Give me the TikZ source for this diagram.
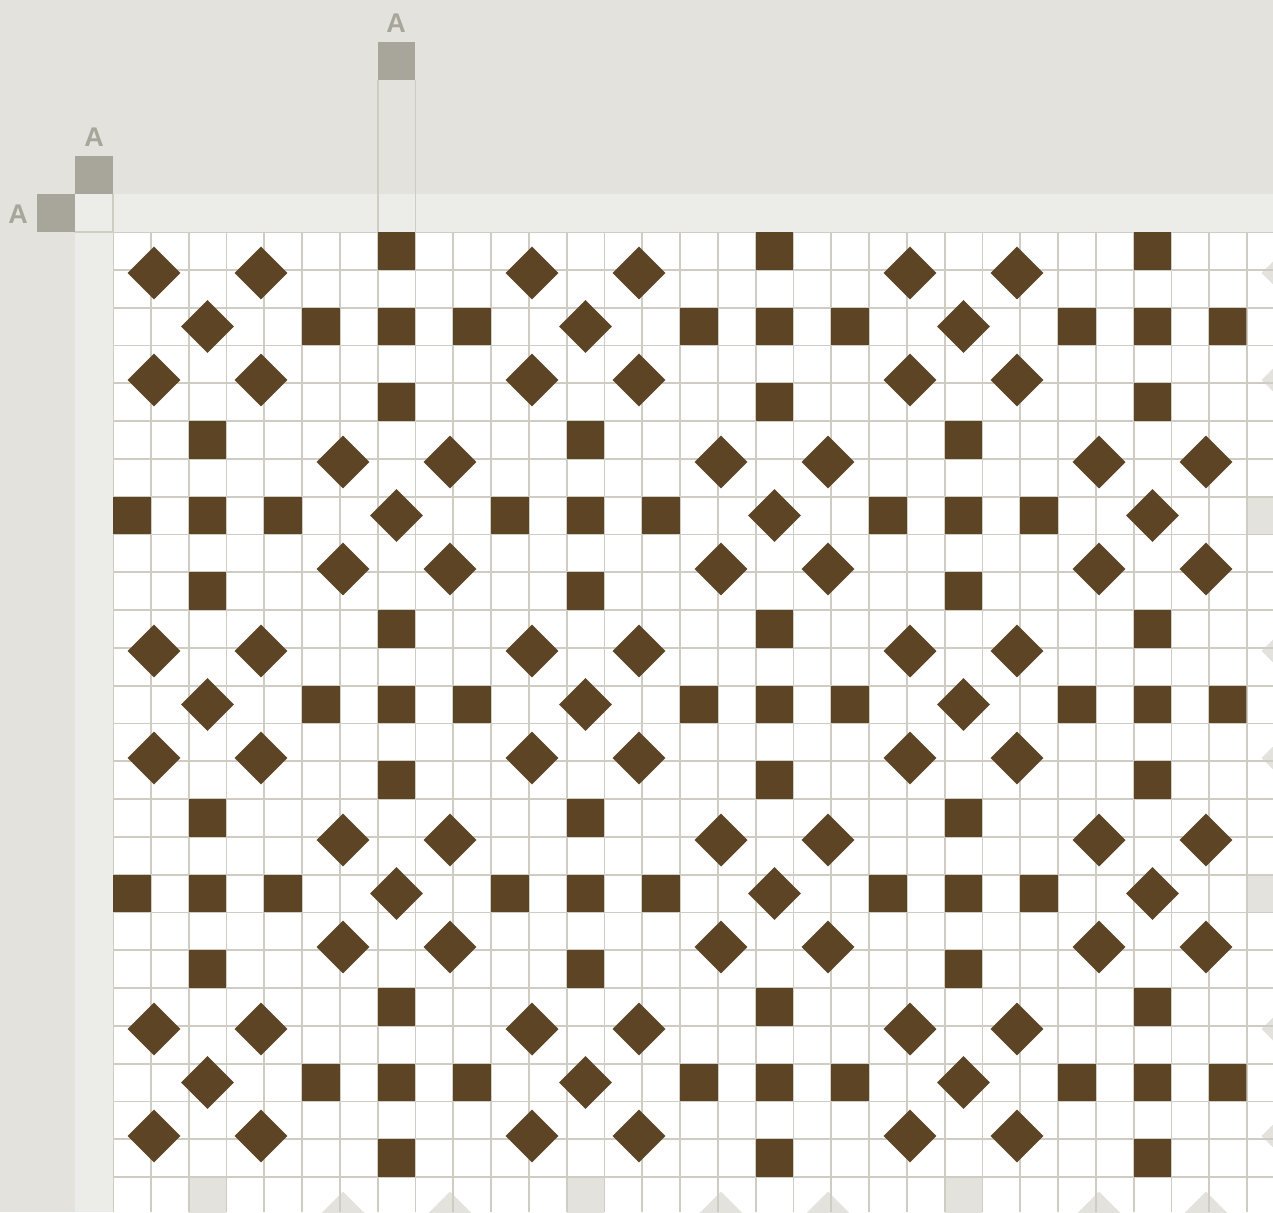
\documentclass[tikz,border=0pt]{standalone}
\usepackage{fontspec}
\setmainfont{Liberation Sans}
\definecolor{bgtop}{HTML}{E3E2DD}
\definecolor{band}{HTML}{ECEDE8}
\definecolor{markc}{HTML}{A8A69A}
\definecolor{gridc}{HTML}{CECCC3}
\definecolor{brownc}{HTML}{5C4424}
\definecolor{overc}{HTML}{E3E2DD}
\def\cellsz{37.8}
\def\dmdr{26.4}
\def\dmdd{53.46}
\newcommand\mydmd[3]{\fill[#3] ({#1-\dmdr},{#2}) -- ({#1},{#2-\dmdr}) -- ({#1+\dmdr},{#2}) -- ({#1},{#2+\dmdr}) -- cycle;}
\newcommand\mysqc[3]{\fill[#3] ({113+(#1)*\cellsz},{232+(#2)*\cellsz}) rectangle ++(\cellsz,\cellsz);}
\newcommand\mydcluster[3]{%
  \pgfmathsetmacro\cXm{113+(#1+0.5)*\cellsz}%
  \pgfmathsetmacro\cYm{232+(#2+0.5)*\cellsz}%
  \mydmd{\cXm}{\cYm}{#3}%
  \mydmd{\cXm-\dmdd}{\cYm-\dmdd}{#3}%
  \mydmd{\cXm+\dmdd}{\cYm-\dmdd}{#3}%
  \mydmd{\cXm-\dmdd}{\cYm+\dmdd}{#3}%
  \mydmd{\cXm+\dmdd}{\cYm+\dmdd}{#3}}
\newcommand\myscluster[3]{%
  \mysqc{#1}{#2}{#3}\mysqc{#1-2}{#2}{#3}\mysqc{#1+2}{#2}{#3}%
  \mysqc{#1}{#2-2}{#3}\mysqc{#1}{#2+2}{#3}}
\newcommand\allshapes[1]{%
  \foreach \ii in {0,...,3}{\foreach \jj in {0,...,3}{%
    \pgfmathtruncatemacro\ca{2+10*\ii}\pgfmathtruncatemacro\ra{2+10*\jj}%
    \pgfmathtruncatemacro\cb{7+10*\ii}\pgfmathtruncatemacro\rb{7+10*\jj}%
    \mydcluster{\ca}{\ra}{#1}\mydcluster{\cb}{\rb}{#1}%
    \myscluster{\cb}{\ra}{#1}\myscluster{\ca}{\rb}{#1}%
  }}}
\begin{document}
\begin{tikzpicture}[x=1pt,y=-1pt,
  lbl/.style={text=markc, font=\bfseries\fontsize{27}{27}\selectfont, inner sep=0pt, anchor=base},
  gline/.style={draw=gridc, line width=1.8pt}]
\useasboundingbox (0,0) rectangle (1273,1212);
\fill[bgtop] (0,0) rectangle (1273,1212);
\fill[band] (75.2,194.2) rectangle (1273,1212);
\fill[white] (113,232) rectangle (1273,1212);
% marker squares
\fill[markc] (37.4,194.2) rectangle (75.2,232);
\fill[markc] (75.2,156.4) rectangle (113,194.2);
\fill[markc] (377.6,42.4) rectangle (415.4,80.2);
\draw[gline] (377.6,80.2) -- (377.6,232);
\draw[gline] (415.4,80.2) -- (415.4,232);
\draw[gline] (113,194.2) -- (113,232);
\draw[gline] (75.2,232) -- (113,232);
\node[lbl] (aleft) at (18,223) {A};
\node[lbl] (amid) at (94,146.5) {A};
\node[lbl] (atop) at (396,33) {A};
\begin{scope}
  \clip (113,232) rectangle (1273,1212);
  \allshapes{overc}
  \foreach \k in {0,...,30} \draw[gline] ({113+\k*\cellsz},232) -- ({113+\k*\cellsz},1212);
  \foreach \k in {0,...,25} \draw[gline] (113,{232+\k*\cellsz}) -- (1273,{232+\k*\cellsz});
\end{scope}
\begin{scope}
  \clip (113,232) rectangle (1246.3,1176.3);
  \allshapes{brownc}
\end{scope}
\end{tikzpicture}
\end{document}
